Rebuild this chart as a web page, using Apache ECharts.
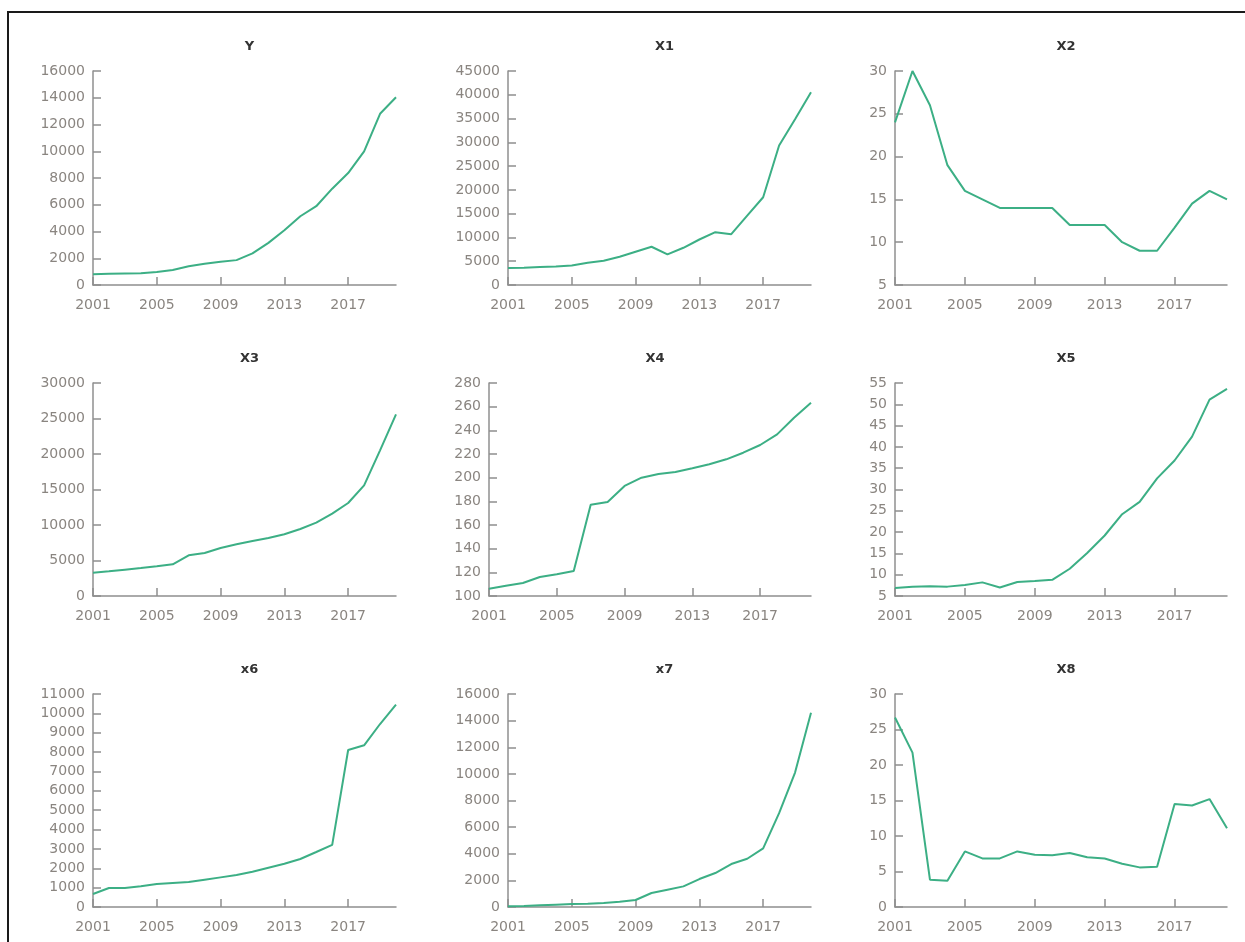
<!DOCTYPE html>
<html>
<head>
<meta charset="utf-8">
<script src="https://cdn.jsdelivr.net/npm/echarts@6/dist/echarts.min.js"></script>
<style>
html,body{margin:0;padding:0;background:#fff;}
#chart{width:1245px;height:942px;}
</style>
</head>
<body>
<div id="chart"></div>
<script>
const years = ['2001','2002','2003','2004','2005','2006','2007','2008','2009','2010','2011','2012','2013','2014','2015','2016','2017','2018','2019','2020'];

const names = ['Y','X1','X2','X3','X4','X5','x6','x7','X8'];

const Y  = [800,840,860,880,970,1120,1400,1590,1740,1860,2360,3150,4100,5140,5890,7200,8370,9990,12800,14040];
const X1 = [3560,3630,3770,3910,4120,4680,5100,5940,6990,8040,6430,7830,9570,11110,10690,14600,18450,29350,34870,40530];
const X2 = [24,30,26,19,16,15,14,14,14,14,12,12,12,10,9,9,11.7,14.5,16,15];
const X3 = [3290,3470,3710,3940,4180,4460,5730,6060,6760,7280,7750,8170,8690,9440,10330,11600,13100,15590,20520,25590];
const X4 = [106.2,108.7,111,116,118.3,121.1,177.2,179.4,193,200,203.1,204.8,207.9,211.3,215.5,221.1,227.6,236.6,250.7,263.4];
const X5 = [6.9,7.2,7.3,7.2,7.6,8.2,7.0,8.3,8.5,8.8,11.4,15.1,19.2,24.2,27.1,32.6,36.8,42.4,51.1,53.6];
const x6 = [670,980,980,1070,1190,1240,1290,1410,1530,1650,1820,2030,2230,2480,2840,3210,8110,8350,9450,10450];
const x7 = [50,75,125,175,225,250,300,400,525,1050,1300,1550,2100,2550,3225,3625,4400,7050,10100,14600];
const X8 = [26.7,21.75,3.84,3.7,7.83,6.84,6.84,7.83,7.36,7.3,7.6,7.0,6.84,6.1,5.58,5.67,14.5,14.3,15.2,11.1];

const seriesData = [Y,X1,X2,X3,X4,X5,x6,x7,X8];

// y-axis ranges [min, max, interval]
const yRanges = [
  [0,16000,2000],[0,45000,5000],[5,30,5],
  [0,30000,5000],[100,280,20],[5,55,5],
  [0,11000,1000],[0,16000,2000],[0,30,5]
];

// layout (pixels)
const gridBoxes = [
  {left:93, top:71, width:303, height:214},
  {left:508, top:71, width:303, height:214},
  {left:895, top:71, width:332, height:214},
  {left:93, top:383, width:303, height:213},
  {left:489, top:383, width:322, height:213},
  {left:895, top:383, width:332, height:213},
  {left:93, top:694, width:303, height:213},
  {left:508, top:694, width:303, height:213},
  {left:895, top:694, width:332, height:213}
];
const titleTops = [35, 347, 658];

const axisColor = '#8f8f8f';
const labelColor = '#8a8580';
const lineColor = '#3caf85';
const fontFam = 'DejaVu Sans, Verdana, sans-serif';

const grid = [], xAxis = [], yAxis = [], series = [], title = [];
for (let i = 0; i < 9; i++) {
  const g = gridBoxes[i];
  grid.push({left:g.left, top:g.top, width:g.width, height:g.height, containLabel:false});
  title.push({
    text: names[i],
    left: g.left + g.width/2,
    top: titleTops[Math.floor(i/3)],
    textAlign: 'center',
    textStyle: {fontFamily: fontFam, fontSize: 13, fontWeight: 'bold', color: '#333'}
  });
  xAxis.push({
    type:'category', gridIndex:i, data:years, boundaryGap:false,
    axisLine:{lineStyle:{color:axisColor, width:1.5}},
    axisTick:{show:true, inside:true, length:8, interval:3, lineStyle:{color:axisColor, width:1.5}},
    axisLabel:{interval:3, margin:13, color:labelColor, fontFamily:fontFam, fontSize:14},
    splitLine:{show:false}
  });
  const r = yRanges[i];
  yAxis.push({
    type:'value', gridIndex:i, min:r[0], max:r[1], interval:r[2],
    axisLine:{show:true, lineStyle:{color:axisColor, width:1.5}},
    axisTick:{show:true, inside:true, length:8, lineStyle:{color:axisColor, width:1.5}},
    axisLabel:{margin:8, color:labelColor, fontFamily:fontFam, fontSize:14,
               formatter: v => String(v)},
    splitLine:{show:false}
  });
  series.push({
    type:'line', xAxisIndex:i, yAxisIndex:i, data:seriesData[i],
    showSymbol:false, symbol:'none', smooth:false,
    lineStyle:{color:lineColor, width:2},
    itemStyle:{color:lineColor},
    animation:false
  });
}

const chart = echarts.init(document.getElementById('chart'), null, {renderer:'canvas'});
chart.setOption({
  backgroundColor:'#fff',
  animation:false,
  title, grid, xAxis, yAxis, series,
  graphic:[
    {type:'line', shape:{x1:8, y1:12, x2:1245, y2:12}, style:{stroke:'#1a1a1a', lineWidth:2}},
    {type:'line', shape:{x1:8, y1:11, x2:8, y2:942}, style:{stroke:'#1a1a1a', lineWidth:2}}
  ]
});
</script>
</body>
</html>
